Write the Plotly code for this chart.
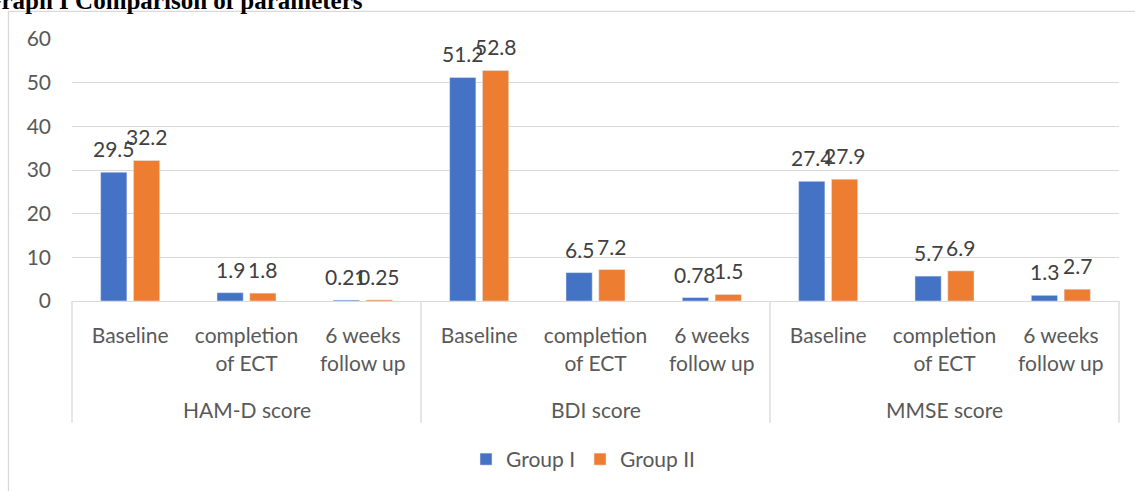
import plotly.graph_objects as go

# Data
groups = ["HAM-D score", "BDI score", "MMSE score"]
timepoints = ["Baseline", "completion<br>of ECT", "6 weeks<br>follow up"]
group_1 = [29.5, 1.9, 0.21, 51.2, 6.5, 0.78, 27.4, 5.7, 1.3]
group_2 = [32.2, 1.8, 0.25, 52.8, 7.2, 1.5, 27.9, 6.9, 2.7]
series_names = ["Group I", "Group II"]
y_ticks = [0, 10, 20, 30, 40, 50, 60]

BLUE = "#4472C4"
ORANGE = "#ED7D31"
GRID = "#D9D9D9"
TEXT = "#595959"
FONT = "Lato"

W, H = 1135, 491
ML, MR, MT, MB = 72, 16, 39.3, 188.3
PW = W - ML - MR
PH = H - MT - MB

def px_x(p):
    return (p - ML) / PW

def px_y(p):
    return (H - MB - p) / PH

n = len(group_1)
xs = list(range(n))
tick_text = timepoints * len(groups)

BARGAP = 0.436
BARGROUPGAP = 0.2
offset = (1 - BARGAP) / 4

fig = go.Figure()
fig.add_bar(x=xs, y=group_1, name=series_names[0], marker_color=BLUE)
fig.add_bar(x=xs, y=group_2, name=series_names[1], marker_color=ORANGE)

# value labels above each bar
for vals, sgn in ((group_1, -1), (group_2, 1)):
    for i, v in enumerate(vals):
        fig.add_annotation(
            x=i + sgn * offset, y=v, xref="x", yref="y",
            text=f"{v:g}", showarrow=False, xanchor="center", yanchor="bottom",
            yshift=9, font=dict(family=FONT, size=21, color="#404040"),
        )

# group labels under the sub-category labels
per = len(timepoints)
for g, name in enumerate(groups):
    fig.add_annotation(
        x=(g * per + per / 2) / n, y=px_y(411.7),
        xref="paper", yref="paper", text=name, showarrow=False,
        xanchor="center", yanchor="middle",
        font=dict(family=FONT, size=21, color=TEXT),
    )

shapes = []
# dividers between groups
for g in range(len(groups) + 1):
    xp = g * per / n
    shapes.append(dict(type="line", xref="paper", yref="paper",
                       x0=xp, x1=xp, y0=0, y1=px_y(425),
                       line=dict(color=GRID, width=1.3)))
# outer chart frame
shapes.append(dict(type="rect", xref="paper", yref="paper",
                   x0=px_x(8.5), x1=px_x(1145), y0=px_y(11.5), y1=px_y(510),
                   line=dict(color=GRID, width=1.3), fillcolor="rgba(0,0,0,0)",
                   layer="below"))

fig.add_annotation(
    x=px_x(-20), y=px_y(16), xref="paper", yref="paper",
    text="<b>Graph I Comparison of parameters</b>", showarrow=False,
    xanchor="left", yanchor="bottom",
    font=dict(family="Liberation Serif", size=25, color="black"),
)

fig.update_layout(
    width=W, height=H, autosize=False,
    margin=dict(l=ML, r=MR, t=MT, b=MB),
    paper_bgcolor="white", plot_bgcolor="white",
    barmode="group", bargap=BARGAP, bargroupgap=BARGROUPGAP,
    shapes=shapes,
    showlegend=True,
    legend=dict(orientation="h", x=px_x(583), xanchor="center",
                y=px_y(462), yanchor="middle",
                font=dict(family=FONT, size=21, color=TEXT),
                itemwidth=30, traceorder="normal"),
    font=dict(family=FONT, color=TEXT),
)

fig.update_xaxes(
    range=[-0.5, n - 0.5], tickmode="array", tickvals=xs, ticktext=tick_text,
    showgrid=False, zeroline=False, showline=True, linecolor=GRID, linewidth=1.3,
    ticks="", tickfont=dict(family=FONT, size=21, color=TEXT),
    ticklabelstandoff=16,
)
fig.update_yaxes(
    range=[0, 60], tickmode="array", tickvals=y_ticks,
    showgrid=True, gridcolor=GRID, gridwidth=1.3, zeroline=False,
    showline=False, ticks="", tickfont=dict(family=FONT, size=21, color=TEXT),
    ticklabelstandoff=20,
)

fig.write_html("out.html")
